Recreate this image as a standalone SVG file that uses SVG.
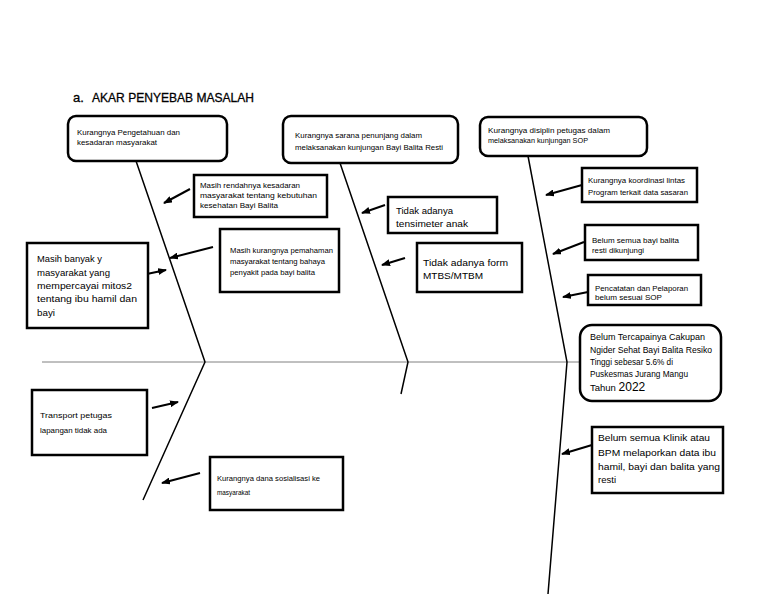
<svg xmlns="http://www.w3.org/2000/svg" width="768" height="594" viewBox="0 0 768 594">
<style>
  .bx{fill:#fff;stroke:#000;stroke-width:2.5}
  .t{font-family:"Liberation Sans",Arial,sans-serif;font-size:7px;fill:#000}
  .m{font-family:"Liberation Sans",Arial,sans-serif;font-size:9.5px;fill:#000}
  .h{font-family:"Liberation Sans",Arial,sans-serif;font-size:13px;fill:#000;stroke:#000;stroke-width:0.3}
  .bone{stroke:#000;stroke-width:1.5;fill:none}
  .ar{stroke:#000;stroke-width:2;fill:none;marker-end:url(#ah)}
</style>
<defs>
  <marker id="ah" markerWidth="9" markerHeight="7" refX="8" refY="3.5" orient="auto" markerUnits="userSpaceOnUse">
    <path d="M0,0 L9,3.5 L0,7 Z" fill="#000"/>
  </marker>
</defs>
<rect width="768" height="594" fill="#fff"/>
<text class="h" x="73" y="102">a.</text>
<text class="h" x="92" y="102" textLength="162" lengthAdjust="spacingAndGlyphs">AKAR PENYEBAB MASALAH</text>

<g id="connectors">
  <line x1="42" y1="362" x2="580" y2="362" stroke="#808080" stroke-width="1"/>
  <polyline class="bone" points="135,158 205,362 143,500"/>
  <polyline class="bone" points="340,163 408,362 401,394"/>
  <polyline class="bone" points="528,156 567,362 548,594"/>
  <line class="ar" x1="190" y1="189" x2="164" y2="203"/>
  <line class="ar" x1="213" y1="247" x2="170" y2="258"/>
  <line class="ar" x1="142" y1="275" x2="166" y2="270"/>
  <line class="ar" x1="385" y1="205" x2="362" y2="213"/>
  <line class="ar" x1="405" y1="258" x2="382" y2="265"/>
  <line class="ar" x1="582" y1="185" x2="546" y2="195"/>
  <line class="ar" x1="584" y1="242" x2="553" y2="254"/>
  <line class="ar" x1="588" y1="292" x2="563" y2="297"/>
  <line class="ar" x1="592" y1="445" x2="562" y2="454"/>
  <line class="ar" x1="152" y1="408" x2="178" y2="402"/>
  <line class="ar" x1="200" y1="473" x2="162" y2="483"/>
</g>

<g id="n1"><rect class="bx" x="68" y="116" width="159" height="45" rx="8"/>
<text class="t" x="77" y="134.5" textLength="103" lengthAdjust="spacingAndGlyphs">Kurangnya Pengetahuan dan</text>
<text class="t" x="77" y="144.5" textLength="80" lengthAdjust="spacingAndGlyphs">kesadaran masyarakat</text></g>

<g id="n2"><rect class="bx" x="283" y="116" width="175" height="47" rx="8"/>
<text class="t" x="295" y="137.5" textLength="127" lengthAdjust="spacingAndGlyphs">Kurangnya sarana penunjang dalam</text>
<text class="t" x="295" y="149.5" textLength="148" lengthAdjust="spacingAndGlyphs">melaksanakan kunjungan Bayi Balita Resti</text></g>

<g id="n3"><rect class="bx" x="480" y="117" width="167" height="39" rx="8"/>
<text class="t" x="488" y="132.5" textLength="122" lengthAdjust="spacingAndGlyphs">Kurangnya disiplin petugas dalam</text>
<text class="t" x="488" y="142.5" textLength="100" lengthAdjust="spacingAndGlyphs">melaksanakan kunjungan SOP</text></g>

<g id="n4"><rect class="bx" x="194" y="175" width="133" height="42"/>
<text class="t" x="200" y="187.5" textLength="100" lengthAdjust="spacingAndGlyphs">Masih rendahnya kesadaran</text>
<text class="t" x="200" y="197.5" textLength="117" lengthAdjust="spacingAndGlyphs">masyarakat tentang kebutuhan</text>
<text class="t" x="200" y="207.5" textLength="78" lengthAdjust="spacingAndGlyphs">kesehatan Bayi Balita</text></g>

<g id="n5"><rect class="bx" x="27" y="243" width="121" height="85"/>
<text class="m" x="37" y="261.5" textLength="65" lengthAdjust="spacingAndGlyphs">Masih banyak y</text>
<text class="m" x="37" y="275.5" textLength="73" lengthAdjust="spacingAndGlyphs">masyarakat yang</text>
<text class="m" x="37" y="288.5" textLength="95" lengthAdjust="spacingAndGlyphs">mempercayai mitos2</text>
<text class="m" x="37" y="301.5" textLength="100" lengthAdjust="spacingAndGlyphs">tentang ibu hamil dan</text>
<text class="m" x="37" y="315.5" textLength="18" lengthAdjust="spacingAndGlyphs">bayi</text></g>

<g id="n6"><rect class="bx" x="220" y="229" width="119" height="63"/>
<text class="t" x="230" y="252.5" textLength="103" lengthAdjust="spacingAndGlyphs">Masih kurangnya pemahaman</text>
<text class="t" x="230" y="263.5" textLength="95" lengthAdjust="spacingAndGlyphs">masyarakat tentang bahaya</text>
<text class="t" x="230" y="274.5" textLength="85" lengthAdjust="spacingAndGlyphs">penyakit pada bayi balita</text></g>

<g id="n7"><rect class="bx" x="388" y="197" width="109" height="36"/>
<text class="m" x="396" y="213.5" textLength="57" lengthAdjust="spacingAndGlyphs">Tidak adanya</text>
<text class="m" x="396" y="226.5" textLength="72" lengthAdjust="spacingAndGlyphs">tensimeter anak</text></g>

<g id="n8"><rect class="bx" x="417" y="243" width="105" height="49"/>
<text class="m" x="423" y="265.5" textLength="85" lengthAdjust="spacingAndGlyphs">Tidak adanya form</text>
<text class="m" x="423" y="278.5" textLength="60" lengthAdjust="spacingAndGlyphs">MTBS/MTBM</text></g>

<g id="n9"><rect class="bx" x="582" y="168" width="115" height="34"/>
<text class="t" x="588" y="182.5" textLength="97" lengthAdjust="spacingAndGlyphs">Kurangnya koordinasi lintas</text>
<text class="t" x="588" y="194.5" textLength="100" lengthAdjust="spacingAndGlyphs">Program terkait data sasaran</text></g>

<g id="n10"><rect class="bx" x="585" y="225" width="113" height="35"/>
<text class="t" x="592" y="242.5" textLength="87" lengthAdjust="spacingAndGlyphs">Belum semua bayi balita</text>
<text class="t" x="592" y="252.5" textLength="52" lengthAdjust="spacingAndGlyphs">resti dikunjungi</text></g>

<g id="n11"><rect class="bx" x="588" y="275" width="113" height="30"/>
<text class="t" x="595" y="290.5" textLength="93" lengthAdjust="spacingAndGlyphs">Pencatatan dan Pelaporan</text>
<text class="t" x="595" y="299.5" textLength="67" lengthAdjust="spacingAndGlyphs">belum sesuai SOP</text></g>

<g id="effect"><rect class="bx" x="580" y="325" width="141" height="76" rx="12"/>
<text class="m" font-size="9" x="590" y="340" textLength="115" lengthAdjust="spacingAndGlyphs">Belum Tercapainya Cakupan</text>
<text class="m" font-size="9" x="590" y="353" textLength="122" lengthAdjust="spacingAndGlyphs">Ngider Sehat Bayi Balita Resiko</text>
<text class="m" font-size="9" x="590" y="365" textLength="83" lengthAdjust="spacingAndGlyphs">Tinggi sebesar 5.6% di</text>
<text class="m" font-size="9" x="590" y="377" textLength="98" lengthAdjust="spacingAndGlyphs">Puskesmas Jurang Mangu</text>
<text class="m" font-size="9" x="590" y="391">Tahun <tspan font-size="12">2022</tspan></text></g>

<g id="n12"><rect class="bx" x="592" y="427" width="131" height="66"/>
<text class="m" x="598" y="441" textLength="112" lengthAdjust="spacingAndGlyphs">Belum semua Klinik atau</text>
<text class="m" x="598" y="456" textLength="118" lengthAdjust="spacingAndGlyphs">BPM melaporkan data ibu</text>
<text class="m" x="598" y="470" textLength="122" lengthAdjust="spacingAndGlyphs">hamil, bayi dan balita yang</text>
<text class="m" x="598" y="483" textLength="18" lengthAdjust="spacingAndGlyphs">resti</text></g>

<g id="n13"><rect class="bx" x="32" y="390" width="115" height="65"/>
<text class="t" x="40" y="417.5" textLength="72" lengthAdjust="spacingAndGlyphs">Transport petugas</text>
<text class="t" x="40" y="432.5" textLength="67" lengthAdjust="spacingAndGlyphs">lapangan tidak ada</text></g>

<g id="n14"><rect class="bx" x="210" y="457" width="133" height="53"/>
<text class="t" x="217" y="480.5" textLength="103" lengthAdjust="spacingAndGlyphs">Kurangnya dana sosialisasi ke</text>
<text class="t" x="217" y="494.5" textLength="33" lengthAdjust="spacingAndGlyphs">masyarakat</text></g>
</svg>
